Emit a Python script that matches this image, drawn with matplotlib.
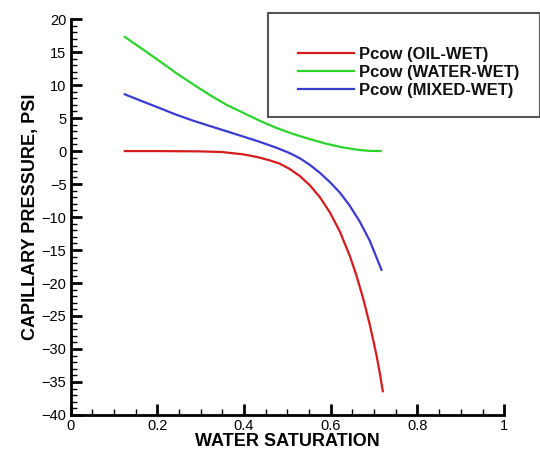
import numpy as np
import matplotlib.pyplot as plt
from matplotlib.patches import Rectangle
from matplotlib.ticker import MultipleLocator, FormatStrFormatter

plt.rcParams['font.family'] = ['Liberation Sans', 'DejaVu Sans']

# values
sw_oil = [0.125, 0.20, 0.30, 0.35, 0.398, 0.43, 0.459, 0.482, 0.505, 0.529, 0.552,
          0.575, 0.598, 0.621, 0.644, 0.659, 0.675, 0.69, 0.705, 0.713, 0.72]
pc_oil = [0.0, 0.0, -0.05, -0.15, -0.5, -0.9, -1.4, -1.9, -2.7, -3.8, -5.2,
          -7.0, -9.3, -12.2, -15.9, -18.8, -22.4, -26.3, -30.8, -33.6, -36.4]

sw_water = [0.125, 0.167, 0.206, 0.244, 0.283, 0.321, 0.36, 0.398, 0.436, 0.475,
            0.513, 0.552, 0.59, 0.628, 0.667, 0.69, 0.715]
pc_water = [17.3, 15.4, 13.6, 11.8, 10.1, 8.5, 7.0, 5.8, 4.6, 3.5,
            2.6, 1.8, 1.1, 0.55, 0.15, 0.03, 0.0]

sw_mixed = [0.125, 0.167, 0.206, 0.244, 0.283, 0.321, 0.36, 0.398, 0.436, 0.475,
            0.505, 0.529, 0.552, 0.575, 0.598, 0.621, 0.644, 0.667, 0.69, 0.717]
pc_mixed = [8.6, 7.5, 6.5, 5.5, 4.6, 3.8, 3.0, 2.2, 1.4, 0.5,
            -0.3, -1.1, -2.1, -3.3, -4.7, -6.3, -8.3, -10.7, -13.6, -18.0]

labels = ['Pcow (OIL-WET)', 'Pcow (WATER-WET)', 'Pcow (MIXED-WET)']
colors = ['#d41c1c', '#2ad42a', '#3a3ad0']

fig = plt.figure(figsize=(5.4, 4.55), dpi=100)
ax = fig.add_axes([0.1307, 0.088, 0.803, 0.870])

l1, = ax.plot(sw_oil, pc_oil, color=colors[0], lw=1.6, solid_joinstyle='round')
l2, = ax.plot(sw_water, pc_water, color=colors[1], lw=1.6, solid_joinstyle='round')
l3, = ax.plot(sw_mixed, pc_mixed, color=colors[2], lw=1.6, solid_joinstyle='round')

ax.set_xlim(0, 1)
ax.set_ylim(-40, 20)
ax.xaxis.set_major_locator(MultipleLocator(0.2))
ax.xaxis.set_minor_locator(MultipleLocator(0.05))
ax.yaxis.set_major_locator(MultipleLocator(5))
ax.yaxis.set_minor_locator(MultipleLocator(1))
ax.xaxis.set_major_formatter(FormatStrFormatter('%g'))

for s in ['top', 'right']:
    ax.spines[s].set_visible(False)
for s in ['left', 'bottom']:
    ax.spines[s].set_linewidth(2.0)
ax.tick_params(which='major', direction='in', length=8, width=2.0, labelsize=10.5, pad=3)
ax.tick_params(which='minor', direction='in', length=4, width=1.0)
ax.patch.set_alpha(0)

ax.set_xlabel('WATER SATURATION', fontsize=13, fontweight='bold', labelpad=0)
ax.set_ylabel('CAPILLARY PRESSURE, PSI', fontsize=13, fontweight='bold', labelpad=2)

# legend box running out to the right edge
fig.patches.append(Rectangle((268 / 540, 1 - 117 / 455), 272 / 540, 104 / 455,
                             transform=fig.transFigure, fill=False,
                             edgecolor='#555555', lw=1.5))
leg = fig.legend([l1, l2, l3], labels, loc='upper left',
                 bbox_to_anchor=(291 / 540, 1 - 40 / 455), frameon=False,
                 handlelength=3.4, handletextpad=0.3, labelspacing=0.18,
                 prop={'weight': 'bold', 'size': 12}, borderaxespad=0)
for t in leg.get_texts():
    t.set_color('#111111')

fig.savefig('out.png', dpi=100)
